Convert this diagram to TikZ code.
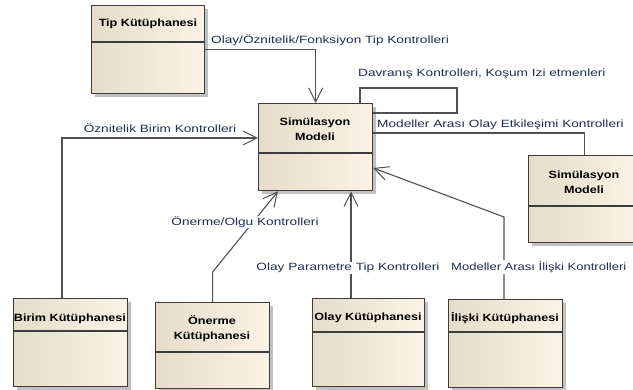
\documentclass[tikz,border=0pt]{standalone}
\usepackage{fontspec}
\usepackage{graphicx}
\setmainfont{Liberation Sans}
\usetikzlibrary{arrows.meta,shadows,calc}
\definecolor{boxL}{HTML}{E6DCCB}
\definecolor{boxR}{HTML}{FCF3E6}
\definecolor{edgec}{HTML}{3C3C3C}
\definecolor{wirec}{HTML}{505050}
\definecolor{lblc}{HTML}{1F2D50}
\newcommand{\lt}[1]{\scalebox{1.3}[1]{#1}}
\newcommand{\bt}[1]{\scalebox{1.2}[1]{\bfseries #1}}
\tikzset{
 umlbox/.style={draw=edgec, line width=1.3pt, left color=boxL, right color=boxR, anchor=north west, inner sep=0pt,
   drop shadow={shadow xshift=3pt, shadow yshift=-3pt, fill=black!40, opacity=0.6}},
 ttl/.style={font=\fontsize{10.5}{15}\selectfont, align=center, inner sep=0pt},
 lab/.style={font=\fontsize{10.5}{13}\selectfont, text=lblc, inner sep=1pt},
 labw/.style={lab, fill=white},
 wire/.style={draw=wirec, line width=1.1pt},
 arr/.style={wire, -{Straight Barb[length=14pt,width=14pt,line width=1pt]}},
 sepline/.style={draw=edgec, line width=1.3pt},
}
\begin{document}
\begin{tikzpicture}[x=1pt,y=-1pt]
\clip (0,0) rectangle (633,390);
\fill[white] (0,0) rectangle (633,390);
% boxes
\node[umlbox, minimum width=113pt, minimum height=88pt] (tip) at (91,5) {};
\draw[sepline] (tip.west |- 0,42) -- (tip.east |- 0,42);
\node[ttl] (tipt) at (148,24) {\bt{Tip Kütüphanesi}};

\node[umlbox, minimum width=114pt, minimum height=87pt] (sim) at (258,103) {};
\draw[sepline] (sim.west |- 0,153) -- (sim.east |- 0,153);
\node[ttl] (simt) at (315,129) {\bt{Simülasyon}\\\bt{Modeli}};

\node[umlbox, minimum width=112pt, minimum height=87pt] (sim2) at (528,155) {};
\draw[sepline] (sim2.west |- 0,206) -- (sim2.east |- 0,206);
\node[ttl] (sim2t) at (584,182) {\bt{Simülasyon}\\\bt{Modeli}};

\node[umlbox, minimum width=114pt, minimum height=88pt] (birim) at (13,298) {};
\draw[sepline] (birim.west |- 0,331) -- (birim.east |- 0,331);
\node[ttl] (birimt) at (70,319) {\bt{Birim Kütüphanesi}};

\node[umlbox, minimum width=114pt, minimum height=86pt] (onerme) at (155,302) {};
\draw[sepline] (onerme.west |- 0,352) -- (onerme.east |- 0,352);
\node[ttl] (onermet) at (212,329) {\bt{Önerme}\\\bt{Kütüphanesi}};

\node[umlbox, minimum width=112pt, minimum height=88pt] (olay) at (312,298) {};
\draw[sepline] (olay.west |- 0,332) -- (olay.east |- 0,332);
\node[ttl] (olayt) at (368,318) {\bt{Olay Kütüphanesi}};

\node[umlbox, minimum width=114pt, minimum height=88pt] (iliski) at (448,299) {};
\draw[sepline] (iliski.west |- 0,332) -- (iliski.east |- 0,332);
\node[ttl] (iliskit) at (505,318) {\bt{İlişki Kütüphanesi}};

% helper coordinates
\coordinate (c1) at (360,88);
\coordinate (c2) at (457,113);
\coordinate (c3) at (0,133);
\coordinate (c4) at (62,138);
\coordinate (c5) at (278,0);
\coordinate (c6) at (351,0);
\coordinate (c7) at (504,217);
\coordinate (c8) at (0,168);

% connectors
\draw[arr] (tip.east) -| (sim.north);
\draw[wire] (sim.north -| c1) |- (c2 |- c1) |- (sim.east |- c2);
\draw[wire] (sim.east |- c3) -| (sim2.north);
\draw[arr] (birim.north -| c4) |- (sim.west |- c4);
\draw[arr] (onerme.north) -- ++(0,-30) -- (sim.south -| c5);
\draw[arr] (olay.north -| c6) -- (sim.south -| c6);
\draw[arr] (iliski.north -| c7) -- (c7) -- (sim.east |- c8);

% labels
\node[lab] (lab1) at (330,40) {\lt{Olay/Öznitelik/Fonksiyon Tip Kontrolleri}};
\node[lab, anchor=west] (lab2) at (357,74) {\lt{Davranış Kontrolleri, Koşum Izi etmenleri}};
\node[lab, anchor=west] (lab3) at (376,125) {\lt{Modeller Arası Olay Etkileşimi Kontrolleri}};
\node[lab] (lab4) at (160,128) {\lt{Öznitelik Birim Kontrolleri}};
\node[labw] (lab5) at (245,222) {\lt{Önerme/Olgu Kontrolleri}};
\node[labw] (lab6) at (348,268) {\lt{Olay Parametre Tip Kontrolleri}};
\node[labw, anchor=west] (lab7) at (450,267) {\scalebox{1.24}[1]{Modeller Arası İlişki Kontrolleri}};
\end{tikzpicture}
\end{document}
